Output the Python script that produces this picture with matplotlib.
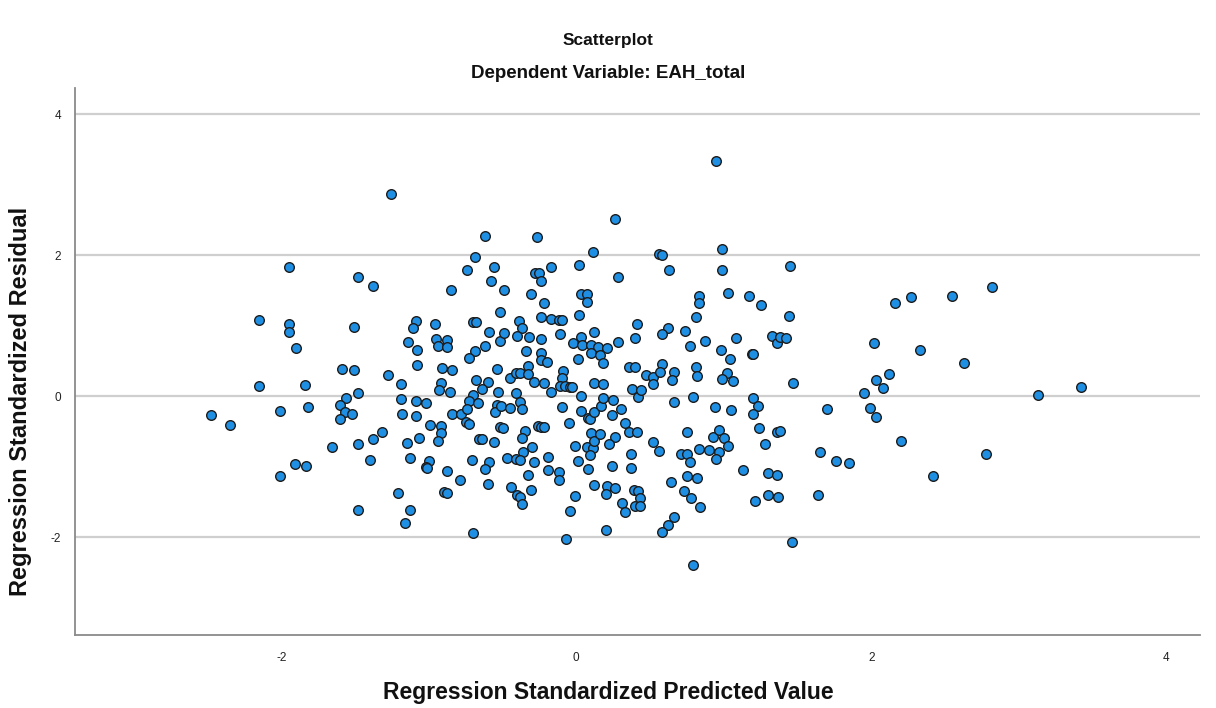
import matplotlib
matplotlib.use("Agg")
import matplotlib.pyplot as plt

plt.rcParams['font.family'] = ['Liberation Sans', 'DejaVu Sans']
plt.rcParams['axes.unicode_minus'] = False

# Standardized predicted values (x) and standardized residuals (y)
pred = [
    -1.95, -1.48, -2.15, -1.95, -1.95, -1.51, -1.90, -1.59, -1.51, -2.15, -1.84, -1.48, -1.56, -1.60,
    -1.57, -1.52, -1.60, -2.48, -2.35, -2.01, -1.82, -1.66, -1.48, -1.91, -1.83, -2.01, -1.48,
    -1.26, -0.62, -0.69, -0.74, -0.56, -0.58, -1.38, -0.85, -0.49, -0.52, -1.09, -1.11, -0.96, -0.70,
    -0.68, -0.59, -0.52, -1.14, -1.08, -0.95, -0.88, -0.94, -0.88, -0.62, -0.69, -0.73, -1.08, -0.91,
    -0.84, -1.28, -0.54,
    -1.19, -0.92, -0.93, -0.86, -0.68, -0.60, -0.64, -0.70, -0.73, -0.67, -0.53, -0.54, -0.55, -1.19,
    -1.09, -1.02, -1.18, -1.09, -0.84, -0.78, -0.74, -0.75, -0.73, -0.99, -0.92, -0.92, -0.94, -1.32,
    -1.38, -1.15, -1.07, -0.66, -0.64, -0.56, -1.40, -1.13, -1.00, -1.02, -1.01, -0.88, -0.71, -0.59,
    -0.62, -0.79, -0.60, -1.21, -0.90, -0.88, -1.13, -1.16, -0.70,
    0.26, -0.27, 0.11, -0.28, -0.25, -0.17, -0.24, 0.02, 0.28, -0.31, -0.22, 0.03, 0.07, 0.07,
    0.02, -0.24, -0.17, -0.12, -0.10, -0.39, -0.37, 0.41, -0.49, -0.40, -0.32, -0.24, -0.11, 0.12,
    0.03, -0.02, 0.04, 0.10, 0.15, 0.21, 0.28, 0.40, -0.34, -0.24, -0.24, 0.10, 0.16, 0.18,
    0.01, -0.20, -0.33,
    -0.45, -0.41, -0.38, -0.33, -0.29, -0.22, -0.09, -0.10, -0.11, -0.08, -0.04, -0.03, -0.17, 0.03,
    0.12, 0.18, 0.36, 0.40, 0.38, 0.42, -0.41, -0.51, -0.45, -0.38, -0.37, -0.10, 0.03, 0.08,
    0.09, 0.12, 0.17, 0.18, 0.25, 0.30, 0.24, -0.05, 0.33, 0.36, 0.41, -0.52, -0.50, -0.26,
    -0.24, -0.22, -0.35, -0.37, -0.30, -0.36, -0.47, -0.41, -0.38, -0.29, -0.19, -0.01, 0.07, 0.11,
    0.10, 0.12, 0.16, 0.26, 0.22, 0.09, 0.01, 0.08, 0.37, 0.24, 0.37, -0.19, -0.12, -0.12,
    -0.33, -0.44, -0.40, -0.38, -0.37, -0.31, 0.12, 0.21, 0.20, 0.26, 0.39, 0.42, 0.31, 0.33,
    0.40, -0.01, -0.04, 0.20, -0.07,
    0.95, 0.56, 0.58, 0.99, 0.63, 0.99, 1.03, 0.83, 0.83, 1.17, 1.25, 0.81, 0.62, 0.58,
    0.74, 0.77, 0.87, 1.08, 0.98, 1.04, 1.19, 1.20, 1.33, 1.36, 0.58,
    0.47, 0.52, 0.52, 0.57, 0.66, 0.65, 0.81, 0.82, 1.02, 0.99, 1.06, 0.44, 0.66, 0.79,
    0.94, 1.05, 1.20, 1.23, 1.20, 0.75, 0.52, 0.56, 0.93, 0.97, 1.00, 1.03, 0.97, 0.95,
    0.83, 0.90, 0.71, 0.75, 0.77, 1.13, 1.24, 1.28, 1.36, 1.30, 1.36, 0.64, 0.75, 0.82,
    0.73, 0.78, 0.84, 0.43, 0.43, 0.66, 0.62, 0.58, 0.79, 1.21, 1.30, 1.37,
    1.45, 1.44, 1.38, 1.42, 2.16, 2.27, 2.55, 2.82, 2.02, 2.33, 2.63, 1.47, 2.03, 2.12,
    2.08, 1.95, 1.70, 1.99, 2.03, 3.13, 3.42, 1.38, 1.65, 1.76, 1.85, 2.20, 2.78, 2.42,
    1.64, 1.46,
]

resid = [
    1.83, 1.69, 1.08, 1.02, 0.91, 0.98, 0.68, 0.38, 0.37, 0.14, 0.16, 0.04, -0.03, -0.13,
    -0.23, -0.26, -0.33, -0.27, -0.41, -0.21, -0.16, -0.72, -0.68, -0.97, -0.99, -1.14, -1.61,
    2.87, 2.27, 1.97, 1.79, 1.83, 1.63, 1.56, 1.51, 1.51, 1.19, 1.07, 0.97, 1.02, 1.05,
    1.05, 0.91, 0.78, 0.77, 0.65, 0.81, 0.80, 0.71, 0.70, 0.71, 0.64, 0.54, 0.44, 0.40,
    0.37, 0.30, 0.38,
    0.17, 0.18, 0.09, 0.06, 0.23, 0.20, 0.10, 0.01, -0.07, -0.10, 0.06, -0.13, -0.23, -0.04,
    -0.07, -0.10, -0.26, -0.28, -0.25, -0.26, -0.18, -0.37, -0.39, -0.41, -0.43, -0.53, -0.64, -0.51,
    -0.61, -0.67, -0.60, -0.61, -0.61, -0.65, -0.91, -0.88, -0.92, -1.01, -1.02, -1.07, -0.91, -0.94,
    -1.04, -1.19, -1.25, -1.38, -1.36, -1.38, -1.61, -1.80, -1.95,
    2.51, 2.26, 2.05, 1.75, 1.75, 1.83, 1.63, 1.86, 1.69, 1.45, 1.32, 1.45, 1.45, 1.34,
    1.15, 1.12, 1.09, 1.08, 1.08, 1.07, 0.97, 1.02, 0.89, 0.85, 0.84, 0.81, 0.88, 0.91,
    0.84, 0.75, 0.72, 0.72, 0.70, 0.68, 0.77, 0.82, 0.64, 0.61, 0.51, 0.61, 0.58, 0.47,
    0.53, 0.48, 0.42,
    0.26, 0.33, 0.33, 0.31, 0.20, 0.18, 0.36, 0.26, 0.14, 0.14, 0.13, 0.13, 0.06, 0.00,
    0.18, 0.17, 0.41, 0.41, 0.10, -0.01, 0.04, -0.14, -0.17, -0.09, -0.18, -0.16, -0.21, -0.31,
    -0.33, -0.23, -0.14, -0.03, -0.06, -0.18, -0.27, -0.38, -0.38, -0.51, -0.51, -0.44, -0.45, -0.43,
    -0.44, -0.44, -0.50, -0.60, -0.72, -0.80, -0.88, -0.90, -0.91, -0.94, -0.87, -0.71, -0.72, -0.74,
    -0.53, -0.64, -0.54, -0.58, -0.68, -0.84, -0.92, -1.04, -0.82, -0.99, -1.02, -1.05, -1.08, -1.19,
    -1.12, -1.29, -1.41, -1.43, -1.53, -1.34, -1.26, -1.28, -1.39, -1.31, -1.34, -1.35, -1.52, -1.65,
    -1.56, -1.42, -1.63, -1.90, -2.03,
    3.34, 2.02, 2.00, 2.09, 1.79, 1.79, 1.46, 1.42, 1.32, 1.42, 1.29, 1.12, 0.97, 0.88,
    0.92, 0.71, 0.78, 0.82, 0.65, 0.53, 0.60, 0.59, 0.85, 0.75, 0.46,
    0.30, 0.27, 0.17, 0.34, 0.34, 0.23, 0.41, 0.28, 0.33, 0.24, 0.21, 0.09, -0.08, -0.01,
    -0.16, -0.20, -0.03, -0.14, -0.25, -0.51, -0.65, -0.78, -0.58, -0.48, -0.60, -0.71, -0.80, -0.89,
    -0.75, -0.77, -0.82, -0.82, -0.94, -1.05, -0.45, -0.68, -0.51, -1.09, -1.12, -1.22, -1.14, -1.16,
    -1.35, -1.45, -1.58, -1.45, -1.56, -1.72, -1.83, -1.93, -2.40, -1.49, -1.41, -1.43,
    1.85, 1.14, 0.84, 0.82, 1.32, 1.41, 1.42, 1.55, 0.75, 0.65, 0.47, 0.18, 0.23, 0.31,
    0.11, 0.04, -0.18, -0.17, -0.30, 0.01, 0.13, -0.50, -0.80, -0.92, -0.95, -0.64, -0.82, -1.14,
    -1.41, -2.07,
]

x_ticks = [-2, 0, 2, 4]
y_ticks = [-2, 0, 2, 4]

fig = plt.figure(figsize=(12.16, 7.08), dpi=100)
ax = fig.add_axes([75 / 1216, 73 / 708, 1125 / 1216, 547 / 708])

ax.scatter(pred, resid, s=48, facecolor='#1f8fe3', edgecolor='#1c1c1c',
           linewidths=1.0, zorder=3)

ax.set_xlim(-3.40, 4.23)
ax.set_ylim(-3.39, 4.37)
ax.set_xticks(x_ticks)
ax.set_yticks(y_ticks)
ax.tick_params(axis='both', length=0, labelsize=8.5, colors='#222222', pad=12)
ax.tick_params(axis='y', pad=10)

ax.grid(axis='y', color='#cfcfcf', linewidth=1.6, zorder=0)
ax.set_axisbelow(True)
for side in ('top', 'right'):
    ax.spines[side].set_visible(False)
for side in ('left', 'bottom'):
    ax.spines[side].set_color('#8a8a8a')
    ax.spines[side].set_linewidth(1.3)

fig.text(608 / 1216, 1 - 40 / 708, 'Scatterplot', ha='center', va='center',
         fontsize=12.5, fontweight='bold', color='#111111')
fig.text(608 / 1216, 1 - 73 / 708, 'Dependent Variable: EAH_total', ha='center',
         va='center', fontsize=13.5, fontweight='bold', color='#111111')
fig.text(608 / 1216, 1 - 693 / 708, 'Regression Standardized Predicted Value',
         ha='center', va='center', fontsize=16.5, fontweight='bold', color='#111111')
fig.text(21 / 1216, 1 - 401 / 708, 'Regression Standardized Residual', ha='center',
         va='center', rotation=90, fontsize=17, fontweight='bold', color='#111111')

fig.savefig('out.png', dpi=100)
